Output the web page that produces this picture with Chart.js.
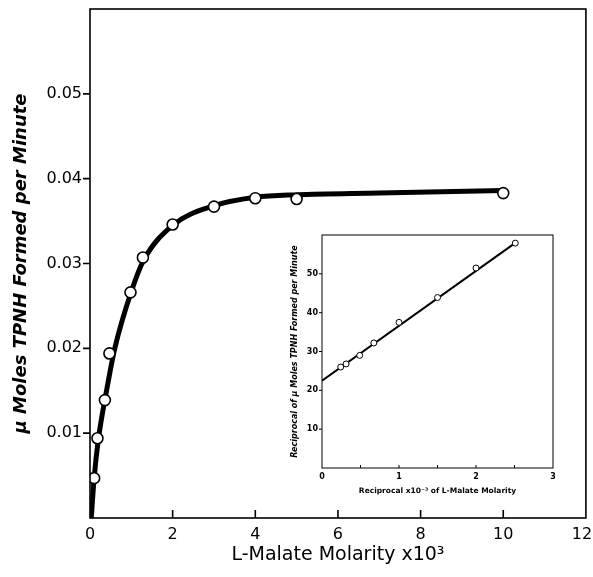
<!DOCTYPE html>
<html>
<head>
<meta charset="utf-8">
<script src="https://cdn.jsdelivr.net/npm/chart.js@4.4.0/dist/chart.umd.min.js"></script>
<style>
  html, body { margin: 0; padding: 0; background: #fff; }
  #wrap { position: relative; width: 593px; height: 577px; }
  #main { position: absolute; left: 0; top: 0; }
  #inset { position: absolute; left: 270px; top: 228px; }
</style>
</head>
<body>
<div id="wrap">
  <canvas id="main" width="593" height="577"></canvas>
  <canvas id="inset" width="300" height="272"></canvas>
</div>
<script>
// measured rates vs L-malate (mM)
const malateConc = [0.1, 0.18, 0.36, 0.47, 0.98, 1.28, 2.0, 3.0, 4.0, 5.0, 10.0];
const tpnhRate   = [0.0047, 0.0094, 0.0139, 0.0194, 0.0266, 0.0307, 0.0346, 0.0367, 0.0377, 0.0376, 0.0383];

// hand-drawn saturation curve
const curveConc = [0.03, 0.1, 0.2, 0.4, 0.6, 1.0, 1.3, 2.0, 3.0, 4.0, 5.0, 7.0, 10.0];
const curveRate = [0, 0.0047, 0.0092, 0.0150, 0.0200, 0.0267, 0.0304, 0.0345, 0.0368, 0.0378, 0.0381, 0.0383, 0.0386];

// double reciprocal plot
const recipConc = [0.243, 0.313, 0.49, 0.673, 1.0, 1.5, 2.0, 2.51];
const recipRate = [26.0, 26.8, 29.0, 32.2, 37.5, 43.9, 51.5, 57.9];
const fitConc = [0, 2.52];
const fitRate = [22.5, 58.1];

const mainXTicks = [2, 4, 6, 8, 10];
const mainYTicks = [0.01, 0.02, 0.03, 0.04, 0.05];
const insetXTicks = [0.5, 1, 1.5, 2, 2.5];
const insetYTicks = [10, 20, 30, 40, 50];

const toXY = (xs, ys) => xs.map((x, i) => ({ x: x, y: ys[i] }));

// keep the plot box fixed: no extra room for overhanging end labels
const fixWidth = w => s => { s.width = w; s.paddingTop = 0; s.paddingBottom = 0; };
const fixHeight = h => s => { s.height = h; s.paddingLeft = 0; s.paddingRight = 0; };

// box around the plot area, inward x ticks, outward y ticks
const frameTicks = {
  id: 'frameTicks',
  afterDraw(chart, args, o) {
    const { ctx, chartArea: a, scales: { x, y } } = chart;
    ctx.save();
    ctx.strokeStyle = '#000';
    ctx.lineWidth = o.lineWidth;
    ctx.strokeRect(a.left, a.top, a.right - a.left, a.bottom - a.top);
    ctx.beginPath();
    o.xTicks.forEach(v => {
      const px = x.getPixelForValue(v);
      ctx.moveTo(px, a.bottom);
      ctx.lineTo(px, a.bottom - o.xLen);
    });
    o.yTicks.forEach(v => {
      const py = y.getPixelForValue(v);
      ctx.moveTo(a.left, py);
      ctx.lineTo(a.left - o.yLen, py);
    });
    ctx.stroke();
    ctx.restore();
  }
};

new Chart(document.getElementById('main'), {
  type: 'scatter',
  data: {
    datasets: [
      {
        data: toXY(malateConc, tpnhRate),
        showLine: false,
        pointRadius: 5.5,
        pointBackgroundColor: '#fff',
        pointBorderColor: '#000',
        pointBorderWidth: 1.6,
        order: 1
      },
      {
        data: toXY(curveConc, curveRate),
        showLine: true,
        borderColor: '#000',
        borderWidth: 5,
        pointRadius: 0,
        cubicInterpolationMode: 'monotone',
        order: 2
      }
    ]
  },
  options: {
    responsive: false,
    animation: false,
    devicePixelRatio: 1,
    layout: { padding: { top: 9, right: 7, left: 0, bottom: 0 } },
    plugins: {
      legend: { display: false },
      tooltip: { enabled: false },
      frameTicks: { lineWidth: 1.6, xTicks: mainXTicks, yTicks: mainYTicks, xLen: 8, yLen: 7 }
    },
    scales: {
      x: {
        type: 'linear',
        min: 0, max: 12,
        grid: { display: false, drawTicks: false },
        border: { display: false },
        ticks: {
          stepSize: 2, color: '#000', padding: 7,
          font: { family: 'DejaVu Sans', size: 16 },
          // last label sits at the page edge, nudge it left
          callback: v => v === 12 ? '12\u2002' : String(v)
        },
        title: {
          display: true,
          text: 'L-Malate Molarity x10³',
          color: '#000',
          font: { family: 'DejaVu Sans', size: 19 },
          padding: { top: 0, bottom: 11 }
        },
        afterFit: fixHeight(59)
      },
      y: {
        min: 0, max: 0.06,
        grid: { display: false, drawTicks: false },
        border: { display: false },
        ticks: {
          stepSize: 0.01, color: '#000', padding: 8,
          font: { family: 'DejaVu Sans', size: 16 },
          callback: v => (v > 0.001 && v < 0.059) ? v.toFixed(2) : ''
        },
        title: {
          display: true,
          text: 'μ Moles TPNH Formed per Minute',
          color: '#000',
          font: { family: 'DejaVu Sans', size: 18, weight: 'bold', style: 'italic' },
          padding: { top: 11, bottom: 0 }
        },
        afterFit: fixWidth(90)
      }
    }
  },
  plugins: [frameTicks]
});

new Chart(document.getElementById('inset'), {
  type: 'scatter',
  data: {
    datasets: [
      {
        data: toXY(recipConc, recipRate),
        showLine: false,
        pointRadius: 3,
        pointBackgroundColor: '#fff',
        pointBorderColor: '#000',
        pointBorderWidth: 1,
        order: 1
      },
      {
        data: toXY(fitConc, fitRate),
        showLine: true,
        borderColor: '#000',
        borderWidth: 2,
        pointRadius: 0,
        order: 2
      }
    ]
  },
  options: {
    responsive: false,
    animation: false,
    devicePixelRatio: 1,
    layout: { padding: { top: 7, right: 17, left: 0, bottom: 0 } },
    plugins: {
      legend: { display: false },
      tooltip: { enabled: false },
      frameTicks: { lineWidth: 1, xTicks: insetXTicks, yTicks: insetYTicks, xLen: 3, yLen: 3 }
    },
    scales: {
      x: {
        type: 'linear',
        min: 0, max: 3,
        grid: { display: false, drawTicks: false },
        border: { display: false },
        ticks: { stepSize: 1, color: '#000', padding: 4, font: { family: 'DejaVu Sans', size: 8, weight: 'bold' } },
        title: {
          display: true,
          text: 'Reciprocal x10⁻³ of L-Malate Molarity',
          color: '#000',
          font: { family: 'DejaVu Sans', size: 7.5, weight: 'bold' },
          padding: { top: 0, bottom: 4 }
        },
        afterFit: fixHeight(32)
      },
      y: {
        min: 0, max: 60,
        grid: { display: false, drawTicks: false },
        border: { display: false },
        ticks: {
          stepSize: 10, color: '#000', padding: 4,
          font: { family: 'DejaVu Sans', size: 8, weight: 'bold' },
          callback: v => (v > 0 && v < 60) ? String(v) : ''
        },
        title: {
          display: true,
          text: 'Reciprocal of μ Moles TPNH Formed per Minute',
          color: '#000',
          font: { family: 'DejaVu Sans', size: 8, weight: 'bold', style: 'italic' },
          padding: { top: 20, bottom: 0 }
        },
        afterFit: fixWidth(52)
      }
    }
  },
  plugins: [frameTicks]
});
</script>
</body>
</html>
